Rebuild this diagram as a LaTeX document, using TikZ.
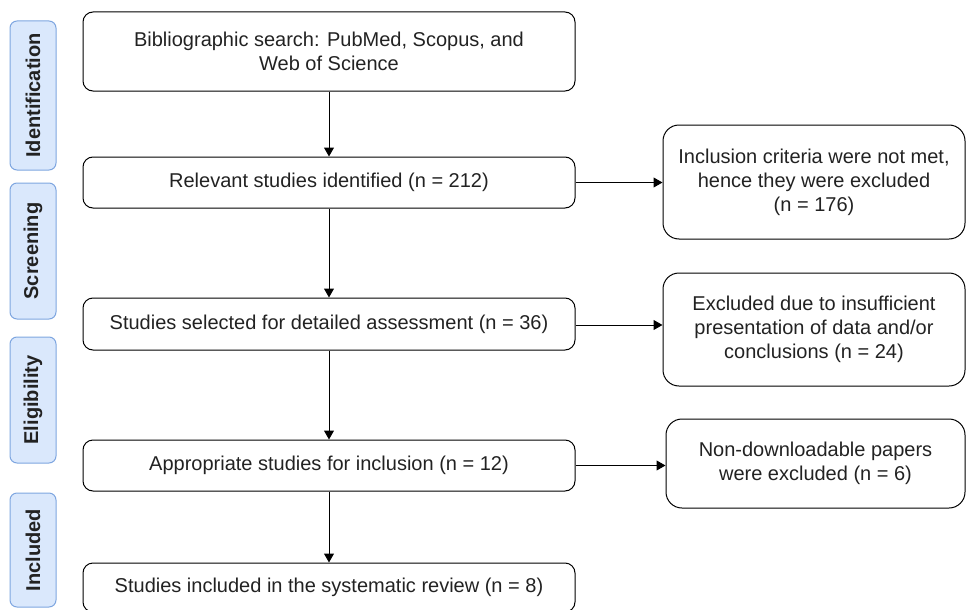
\documentclass[tikz,border=0pt]{standalone}
\usepackage{fontspec}
\setmainfont{Liberation Sans}
\usepackage{tikz}
\usetikzlibrary{arrows.meta}
\definecolor{phasefill}{HTML}{DAE8FC}
\definecolor{phaseline}{HTML}{7EA6E0}
\definecolor{boxtext}{HTML}{222222}
\tikzset{font=\fontsize{20}{24}\selectfont}
\tikzset{box/.style={draw, line width=1pt, rounded corners=10pt, align=center,
    inner sep=0pt, text=boxtext}}
\tikzset{sidebox/.style={box, rounded corners=16pt, minimum width=302pt}}
\tikzset{mainbox/.style={box, minimum width=492pt}}
\tikzset{phase/.style={draw=phaseline, fill=phasefill, line width=1pt,
    rounded corners=7pt, rotate=90, inner sep=0pt, minimum height=46pt,
    text=boxtext, font=\fontsize{20}{24}\selectfont\bfseries}}
\tikzset{flow/.style={line width=1pt, -{Triangle[length=9pt,width=10pt]}}}

\begin{document}
\begin{tikzpicture}[x=1pt,y=-1pt]
  \useasboundingbox (0,0) rectangle (966,610);

  % phases
  \node[phase, minimum width=149pt] (ident) at (33,95.5) {Identification};
  \node[phase, minimum width=136pt] (screen) at (33,251) {Screening};
  \node[phase, minimum width=126pt] (elig) at (33,400) {Eligibility};
  \node[phase, minimum width=114pt] (incl) at (33,550) {Included};

  % main column
  \node[mainbox, minimum height=79pt] (b1) at (329,51.5)
  {Bibliographic search: PubMed, Scopus, and\\Web of Science};
  \node[mainbox, minimum height=51pt] (b2) at (329,182.5)
  {Relevant studies identified (n = 212)};
  \node[mainbox, minimum height=52pt] (b3) at (329,324)
  {Studies selected for detailed assessment (n = 36)};
  \node[mainbox, minimum height=51pt] (b4) at (329,465.5)
  {Appropriate studies for inclusion (n = 12)};
  \node[mainbox, minimum height=49pt] (b5) at (329,587.5)
  {Studies included in the systematic review (n = 8)};

  % exclusions
  \node[sidebox, minimum height=114pt] (r1) at (814,182)
  {Inclusion criteria were not met,\\hence they were excluded\\(n = 176)};
  \node[sidebox, minimum height=113pt] (r2) at (814,329.5)
  {Excluded due to insufficient\\presentation of data and/or\\conclusions (n = 24)};
  \node[sidebox, minimum height=89pt, minimum width=299pt] (r3) at (815.5,463.5)
  {Non-downloadable papers\\were excluded (n = 6)};

  \draw[flow] (b1) -- (b2);
  \draw[flow] (b2) -- (b3);
  \draw[flow] (b3) -- (b4);
  \draw[flow] (b4) -- (b5);

  \draw[flow] (b2.east) -- (b2.east -| r1.west);
  \draw[flow] ([yshift=-1pt]b3.east) -- ([yshift=-1pt]b3.east -| r2.west);
  \draw[flow] (b4.east) -- (b4.east -| r3.west);

\end{tikzpicture}
\end{document}
